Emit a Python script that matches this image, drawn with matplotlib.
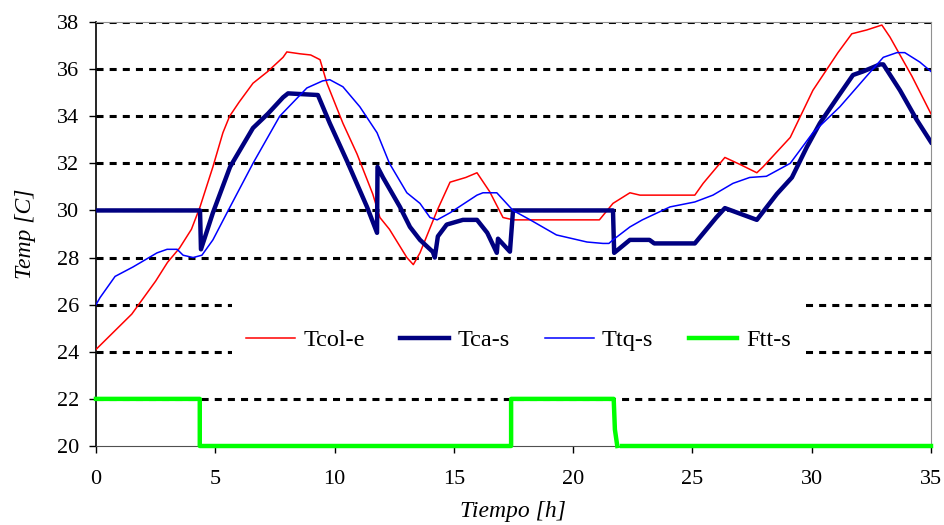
import numpy as np
import matplotlib
matplotlib.use('Agg')
import matplotlib.pyplot as plt
from matplotlib.patches import Rectangle

plt.rcParams['font.family'] = ['Liberation Serif', 'DejaVu Serif']

# Tcol-e (red)
tcol_x = [0, 0.5, 1, 1.5, 2, 2.5, 3, 3.5, 4, 4.36, 4.9, 5.32, 5.6, 6.0, 6.58, 7.2, 7.84, 8.0,
          8.55, 9.0, 9.39, 9.68, 10.35, 10.94, 11.6, 11.9, 12.3, 13.03, 13.3, 13.58, 14.3,
          14.84, 15.5, 15.97, 16.5, 17.06, 17.5, 21.1, 21.67, 22.38, 22.8, 25.1, 25.45,
          26.36, 27.0, 27.7, 27.96, 29.1, 30.05, 31.1, 31.68, 32.3, 32.94, 33.28, 34.2, 35.0]
tcol_y = [24.1, 24.6, 25.1, 25.6, 26.3, 27.0, 27.8, 28.4, 29.2, 30.15, 31.85, 33.3, 34.0, 34.6,
          35.4, 35.9, 36.5, 36.73, 36.65, 36.6, 36.4, 35.4, 33.7, 32.4, 30.7, 29.7, 29.2, 28.0,
          27.7, 28.2, 30.0, 31.2, 31.4, 31.6, 30.8, 29.7, 29.6, 29.6, 30.3, 30.75, 30.65,
          30.65, 31.15, 32.25, 31.95, 31.6, 31.85, 33.1, 35.1, 36.7, 37.5, 37.66, 37.87,
          37.36, 35.7, 34.1]

# Tca-s (navy)
tca_x = [0, 4.36, 4.4, 4.9, 5.62, 6.58, 7.2, 7.84, 8.05, 9.3, 9.8, 10.52, 11.36, 11.78, 11.8,
         12.03, 12.74, 13.16, 13.58, 14.12, 14.2, 14.33, 14.7, 15.38, 15.97, 16.4, 16.8,
         16.85, 17.35, 17.48, 21.67, 21.72, 22.38, 23.2, 23.4, 25.1, 26.0, 26.36, 27.7,
         28.54, 29.17, 29.8, 30.34, 31.06, 31.73, 32.15, 32.86, 33.0, 33.7, 34.4, 35.0]
tca_y = [30.0, 30.0, 28.35, 29.9, 31.85, 33.5, 34.1, 34.8, 34.97, 34.9, 33.7, 32.1, 30.15,
         29.05, 31.85, 31.4, 30.15, 29.3, 28.75, 28.24, 28.0, 28.9, 29.4, 29.6, 29.6, 29.05,
         28.2, 28.8, 28.25, 30.0, 30.0, 28.2, 28.75, 28.75, 28.6, 28.6, 29.7, 30.1, 29.6,
         30.7, 31.4, 32.7, 33.7, 34.77, 35.75, 35.9, 36.2, 36.2, 35.1, 33.85, 32.9]

# Ttq-s (blue)
ttq_x = [0, 0.17, 0.8, 1.55, 2.56, 2.98, 3.4, 3.65, 4.07, 4.44, 4.9, 5.49, 6.58, 7.7, 8.84,
         9.5, 9.8, 10.35, 11.06, 11.78, 12.3, 13.03, 13.58, 14.0, 14.3, 14.84, 15.97, 16.22,
         16.8, 17.48, 18.2, 19.3, 20.58, 21.25, 21.5, 21.67, 22.38, 22.9, 24.06, 25.1, 25.86,
         26.7, 27.4, 28.1, 29.1, 30.05, 31.18, 32.3, 33.0, 33.57, 33.9, 34.53, 35.0]
ttq_y = [26.0, 26.3, 27.2, 27.6, 28.2, 28.35, 28.35, 28.1, 28.0, 28.1, 28.75, 29.9, 32.0,
         34.0, 35.2, 35.5, 35.55, 35.25, 34.4, 33.3, 32.0, 30.75, 30.3, 29.7, 29.6, 29.9,
         30.65, 30.75, 30.75, 30.0, 29.6, 28.96, 28.66, 28.6, 28.6, 28.75, 29.3, 29.6, 30.15,
         30.36, 30.65, 31.15, 31.4, 31.45, 32.0, 33.3, 34.4, 35.7, 36.5, 36.7, 36.7, 36.3, 35.9]

# Ftt-s (green)
ftt_x = [0, 4.35, 4.35, 17.4, 17.4, 21.7, 21.75, 21.85, 21.9, 22.05, 35.0]
ftt_y = [22, 22, 20, 20, 22, 22, 20.7, 20, np.nan, 20, 20]

fig = plt.figure(figsize=(9.45, 5.25), dpi=100)
ax = fig.add_axes([96 / 945, 1 - 446 / 525, 835 / 945, 424 / 525])

ax.set_xlim(0, 35)
ax.set_ylim(20, 38)
ax.set_xticks(range(0, 36, 5))
ax.set_yticks(range(20, 39, 2))

for yv in range(22, 39, 2):
    ax.axhline(yv, color='black', lw=2.2, linestyle=(0, (2.3, 2.0)), zorder=1)

# white legend area (Excel style box without border) hides the gridlines behind it
ax.add_patch(Rectangle((0.163, 0.17), 0.686, 0.18, transform=ax.transAxes,
                       facecolor='white', edgecolor='none', zorder=2))

ax.plot(tcol_x, tcol_y, color='#ff0000', lw=1.1, label='Tcol-e', zorder=3)
ax.plot(tca_x, tca_y, color='#000080', lw=3.2, label='Tca-s', zorder=3)
ax.plot(ttq_x, ttq_y, color='#0000ff', lw=1.1, label='Ttq-s', zorder=4)
ax.plot(ftt_x, ftt_y, color='#00ff00', lw=3.2, label='Ftt-s', zorder=5, clip_on=False)

for s in ['top', 'right']:
    ax.spines[s].set_color('#909090')
ax.spines['left'].set_color('black')
ax.spines['bottom'].set_color('#505050')
ax.spines['left'].set_linewidth(1.2)

ax.tick_params(axis='both', direction='out', length=5, width=1, labelsize=16)
ax.tick_params(axis='y', pad=7)
ax.tick_params(axis='x', pad=12)

ax.set_xlabel('Tiempo [h]', fontsize=17, style='italic')
ax.set_ylabel('Temp [C]', fontsize=17, style='italic')
ax.xaxis.set_label_coords(0.5, -0.13)
ax.yaxis.set_label_coords(-0.072, 0.5)

leg = ax.legend(loc='center', bbox_to_anchor=(0.506, 0.25), ncol=4, fontsize=17.5,
                frameon=False, borderpad=0.5, handlelength=2.0, handletextpad=0.35,
                columnspacing=1.45, borderaxespad=0)
leg.set_zorder(10)

fig.savefig('out.png', dpi=100)
